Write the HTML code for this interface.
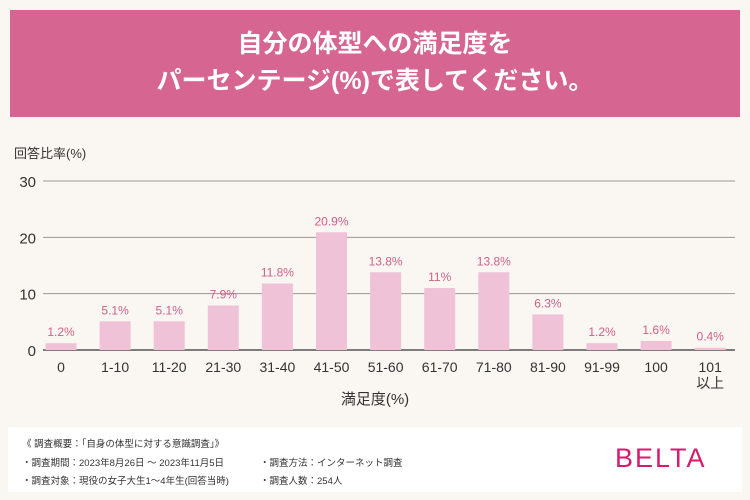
<!DOCTYPE html>
<html><head><meta charset="utf-8"><style>
body{margin:0;width:750px;height:500px;background:#faf6f1;font-family:"Liberation Sans","Noto Sans CJK JP",sans-serif;position:relative;overflow:hidden}
.hdr{position:absolute;left:10px;top:10px;width:730px;height:107px;background:#d66591;color:#fff;text-align:center;font-size:25px;font-weight:bold;line-height:37px;padding-top:16px;box-sizing:border-box}
.ft{position:absolute;left:8px;top:427px;width:734px;height:65px;background:#fff;font-size:9.5px;color:#333}
.ft div{position:absolute}
</style></head><body>
<div class="hdr">自分の体型への満足度を<br>パーセンテージ(%)で表してください。</div>
<svg id="c" width="750" height="420" style="position:absolute;left:0;top:0"></svg>
<div class="ft">
<div style="left:14px;top:9px">《 調査概要：「自身の体型に対する意識調査」》</div>
<div style="left:14px;top:28px">・調査期間：2023年8月26日 ～ 2023年11月5日</div>
<div style="left:252px;top:28px">・調査方法：インターネット調査</div>
<div style="left:14px;top:46px">・調査対象：現役の女子大生1～4年生(回答当時)</div>
<div style="left:252px;top:46px">・調査人数：254人</div>
<div style="left:607px;top:16px;font-size:27px;color:#d41b6d;letter-spacing:2px">BELTA</div>
</div>
<script>
const categories=["0","1-10","11-20","21-30","31-40","41-50","51-60","61-70","71-80","81-90","91-99","100","101\n以上"];
const values=[1.2,5.1,5.1,7.9,11.8,20.9,13.8,11,13.8,6.3,1.2,1.6,0.4];
const labels=["1.2%","5.1%","5.1%","7.9%","11.8%","20.9%","13.8%","11%","13.8%","6.3%","1.2%","1.6%","0.4%"];
const yTicks=[0,10,20,30];
const svg=document.getElementById('c');const NS='http://www.w3.org/2000/svg';
const y0=350,y1=181,xl=43,xr=735;
const y=v=>y0-(v/30)*(y0-y1);
const x=i=>61+i*54.1;
function mk(t,a,txt){const e=document.createElementNS(NS,t);for(const k in a)e.setAttribute(k,a[k]);if(txt!=null)e.textContent=txt;svg.appendChild(e);return e;}
let e=mk('text',{x:14,y:158,'font-size':13,fill:'#333'},'回答比率(%)');


yTicks.forEach(t=>{
 let l=mk('line',{x1:xl,x2:xr,y1:y(t),y2:y(t),stroke:t?'#999':'#333','stroke-width':t?1:1.3});
 
 
 let tx=mk('text',{x:36,y:y(t)+6,'font-size':15,fill:'#333','text-anchor':'end'},t);
 
 
});
values.forEach((v,i)=>{
 let r=mk('rect',{x:x(i)-15.5,y:y(v),width:31,height:y0-y(v),fill:'#efc2d7'});
 
 
 let vl=mk('text',{x:x(i),y:y(v)-7,'font-size':12,fill:'#d0608c','text-anchor':'middle'},labels[i]);
 
 
 categories[i].split('\n').forEach((s,j)=>{
  let cl=mk('text',{x:x(i),y:372+j*16,'font-size':14,fill:'#333','text-anchor':'middle'},s);
  
  
 });
});
e=mk('text',{x:375,y:404,'font-size':15,fill:'#333','text-anchor':'middle'},'満足度(%)');


</script>
</body></html>
